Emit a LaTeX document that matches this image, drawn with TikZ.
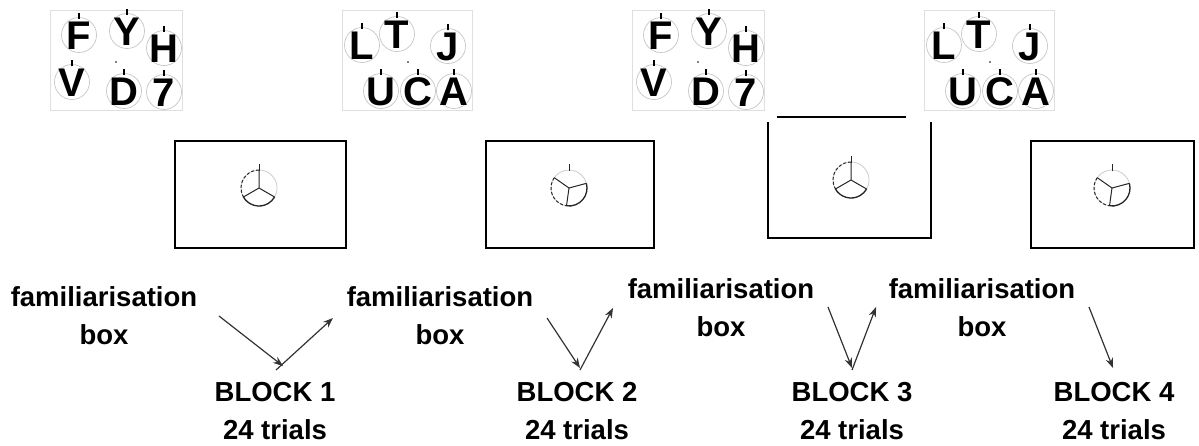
\documentclass[tikz,border=0pt]{standalone}
\usepackage{fontspec}
\setmainfont{Liberation Sans}
\usetikzlibrary{positioning,arrows.meta,calc}

% dial on a screen: centre x, centre y, three spoke angles
\newcommand{\dial}[5]{%
  \begin{scope}[shift={(#1,#2)},yscale=-1]
    \draw[ring] (0,0) circle (18);
    \draw[hand,densely dashed] (#3:18) arc (#3:#4:18);
    \draw[hand,line width=1.3pt] (#4:18) arc (#4:#5:18);
    \draw[hand] (#3:18) -- (0,0) -- (#4:18) (0,0) -- (#5:18);
    \draw[hand,line width=0.7pt] (0,17) -- (0,24);
  \end{scope}}

\begin{document}
\begin{tikzpicture}[x=1pt,y=-1pt,
  panel/.style={draw=gray!25,line width=1pt},
  screen/.style={draw=black,line width=2.5pt},
  ring/.style={draw=gray!45,line width=0.7pt},
  hand/.style={draw=black!85,line width=1pt},
  ltr/.style={inner sep=0pt,font=\fontsize{40}{40}\selectfont\bfseries},
  lbl/.style={align=center,inner sep=0pt,font=\fontsize{27.5}{38}\selectfont\bfseries},
  flow/.style={-{Stealth[length=10pt,width=7.5pt]},line width=1.2pt,black!80}]
\useasboundingbox (0,0) rectangle (1199,445);

% letter panels, each set shown twice
\foreach \dx in {0,582} {
  \begin{scope}[shift={(\dx,0)}]
    \draw[panel] (50,10) rectangle (182,110);
    \foreach \l/\x/\y in {F/79/35,Y/127/31,H/164/48,V/72/82,D/124/91,7/164/92} {
      \draw[ring] (\x,\y) circle (17.5);
      \node[ltr] (a\l\dx) at (\x,\y+1) {\l};
      \draw[black,line width=1.2pt] (\x,\y-16) -- (\x,\y-22);
    }
    \fill (116,62) circle (0.9);
    \draw[panel] (342,10) rectangle (472,110);
    \foreach \l/\x/\y in {L/362/45,T/397/34,J/448/46,U/381/91,C/418/91,A/454/91} {
      \draw[ring] (\x,\y) circle (17.5);
      \node[ltr] (b\l\dx) at (\x,\y+1) {\l};
      \draw[black,line width=1.2pt] (\x,\y-16) -- (\x,\y-22);
    }
    \fill (408,62) circle (0.9);
  \end{scope}
}

% screens
\draw[screen] (175,141) rectangle (346,248);
\draw[screen] (486,141) rectangle (654,248);
\draw[screen] (768,122) -- (768,238) -- (931,238) -- (931,122);
\draw[screen] (777,117) -- (906,117);
\draw[screen] (1031,141) rectangle (1194,248);
\dial{259}{188}{90}{210}{330}
\dial{569}{188}{145}{262}{375}
\dial{851}{180}{90}{210}{330}
\dial{1112}{188}{145}{262}{375}

% familiarisation boxes and blocks
\node[lbl] (fam1) at (104,316) {familiarisation\\box};
\node[lbl] (fam2) at (440,316) {familiarisation\\box};
\node[lbl] (fam3) at (721,308) {familiarisation\\box};
\node[lbl] (fam4) at (982,308) {familiarisation\\box};
\node[lbl] (blk1) at (275,411) {BLOCK 1\\24 trials};
\node[lbl] (blk2) at (577,411) {BLOCK 2\\24 trials};
\node[lbl] (blk3) at (852,411) {BLOCK 3\\24 trials};
\node[lbl] (blk4) at (1114,411) {BLOCK 4\\24 trials};

% arrows in and out of each block
\coordinate (out1) at (219,316);
\coordinate (in1) at (283,366);
\coordinate (up1) at (276,370);
\coordinate (out2) at (547,318);
\coordinate (in2) at (580,368);
\coordinate (up2) at (580,370);
\coordinate (out3) at (828,307);
\coordinate (in3) at (852,368);
\coordinate (up3) at (852,370);
\coordinate (out4) at (1089,307);
\coordinate (in4) at (1113,368);
\coordinate (back2) at (333,318);
\coordinate (back3) at (613,308);
\coordinate (back4) at (876,307);
\draw[flow] (out1) -- (in1);
\draw[flow] (up1) -- (back2);
\draw[flow] (out2) -- (in2);
\draw[flow] (up2) -- (back3);
\draw[flow] (out3) -- (in3);
\draw[flow] (up3) -- (back4);
\draw[flow] (out4) -- (in4);
\end{tikzpicture}
\end{document}
